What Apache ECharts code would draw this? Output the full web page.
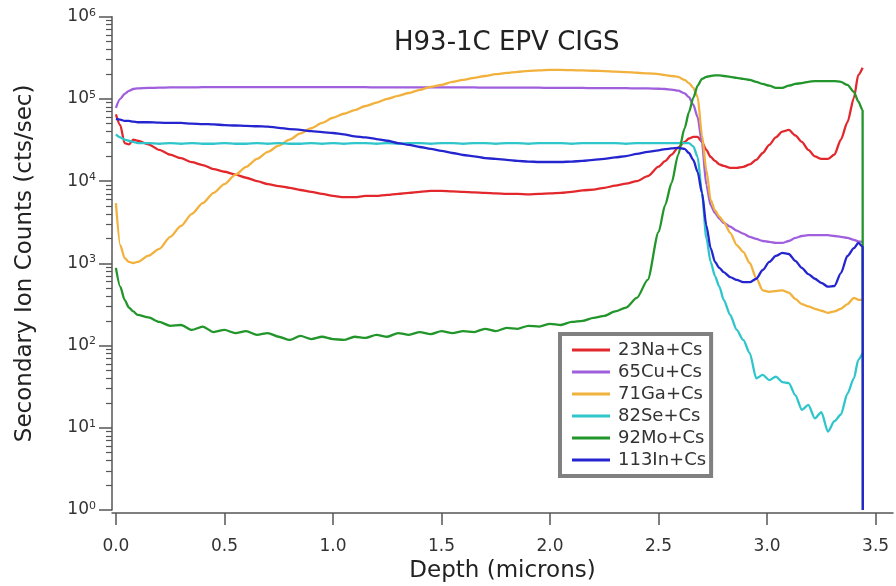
<!DOCTYPE html>
<html><head><meta charset="utf-8">
<script src="https://cdn.jsdelivr.net/npm/echarts@6/dist/echarts.min.js"></script>
<style>html,body{margin:0;padding:0;background:#fff}#c{width:896px;height:586px}</style>
</head><body><div id="c"></div>
<script>
const depth = [0,0.02,0.04,0.06,0.08,
0.10,0.15,0.20,0.25,0.30,0.35,0.40,0.45,0.50,0.55,0.60,0.65,0.70,0.75,0.80,0.85,0.90,0.95,1.00,1.05,1.10,1.15,1.20,1.25,1.30,1.35,1.40,1.45,1.50,1.55,1.60,1.65,1.70,1.75,1.80,1.85,1.90,1.95,2.00,2.05,2.10,2.15,2.20,2.25,2.30,2.35,2.40,2.45,2.50,
2.53,2.56,2.59,2.62,
2.64,2.66,2.68,2.70,2.72,2.74,2.76,2.78,2.80,
2.83,2.86,2.89,2.92,2.95,2.98,3.01,3.04,3.07,3.10,3.13,3.16,3.19,3.22,3.25,3.28,3.31,3.34,3.37,3.40,
3.42,3.44,3.441];

const na23 = [65000,48000,29000,28000,32000,
31000,28000,24000,21000,19000,17000,15700,14000,13000,12000,11000,10000,9200,8700,8300,7800,7400,7000,6600,6400,6400,6600,6600,6800,7000,7200,7400,7600,7600,7500,7400,7300,7200,7100,7000,7000,6900,7000,7100,7200,7400,7700,7900,8300,8800,9300,10000,11500,15000,
17500,21000,25500,30000,
33000,34500,34500,30000,24000,19700,17600,16000,15300,
14500,14500,14900,16000,18100,22000,27600,34000,40000,42000,36000,30000,24000,20000,18600,18600,21000,32000,52000,103000,
196000,240000,null];

const cu65 = [78000,100000,115000,125000,132000,
134000,136000,137000,138000,138000,138000,139000,139000,139000,139000,139000,139000,139000,139000,139000,139000,139000,139000,139000,139000,139000,139000,138000,138000,138000,138000,138000,138000,138000,138000,138000,138000,137000,137000,137000,137000,137000,137000,136000,136000,136000,136000,135000,135000,135000,135000,134000,134000,133000,
132000,130000,126000,117000,
105000,85000,60000,29000,9000,5100,4100,3500,3100,
2800,2500,2300,2100,1980,1870,1820,1770,1770,1870,2040,2150,2200,2200,2200,2200,2150,2100,2040,1930,
1850,1820,null];

const ga71 = [5400,1670,1160,1040,1010,
1040,1240,1500,2100,2850,4000,5400,7200,9200,11900,14900,18600,22700,27000,32000,38000,44000,51000,59000,66000,73000,82000,90000,100000,109000,118000,129000,140000,148000,161000,170000,180000,190000,200000,207000,213000,219000,222000,225000,225000,224000,222000,220000,218000,215000,212000,208000,205000,200000,
195000,190000,185000,170000,
156000,136000,106000,36000,13700,5900,4400,3700,3200,
2350,1670,1380,1010,660,470,450,460,470,440,370,320,300,280,265,250,260,280,320,380,
360,360,null];

const se82 = [37000,34000,32000,31000,30000,
29000,29000,28500,29000,28500,29000,28500,28500,29000,28500,28500,29000,28500,29000,28500,28500,29000,28500,29000,28500,29000,29000,28500,29000,28500,29000,29000,28500,29000,29000,28500,29000,29000,28500,29000,29000,28500,29000,29000,29000,28500,29000,29000,29000,29000,28500,29000,29000,29000,
29000,29000,29000,29000,
29000,26500,19700,7200,2040,1040,700,520,360,
236,155,117,81,40,44,38,42,36,35,25,16.5,19,13,15.5,9,12,14.5,26,40,
67,81,null];

const mo92 = [880,520,360,290,260,
236,220,194,174,178,155,170,146,155,142,150,135,142,128,117,131,120,128,120,117,128,124,135,128,142,135,146,138,150,142,150,146,160,150,164,160,174,170,184,178,194,200,217,230,260,290,380,630,2400,
5100,9500,20800,44000,
69000,103000,145000,175000,185000,190000,193000,193000,190000,
185000,180000,175000,170000,161000,152000,145000,136000,136000,145000,152000,156000,161000,165000,165000,165000,165000,161000,148000,122000,
93000,73000,1];

const in113 = [57000,56000,54000,54000,53000,
52000,52000,51500,51000,51000,50000,49500,49000,48000,47500,47000,46500,46000,44500,43000,42000,40500,39500,38500,37000,35000,34000,32500,31000,29000,27600,26000,24700,23300,22000,20800,20000,19100,18600,18100,17600,17300,17100,17100,17100,17300,17600,18100,18600,19400,20200,21400,22700,23700,
24500,25000,25400,24700,
22000,18100,12900,7200,2900,1530,1040,880,780,
680,630,590,590,650,830,1040,1230,1340,1300,1070,880,740,650,580,520,530,760,1230,1530,
1770,1600,1];

const seriesNames = ['23Na+Cs','65Cu+Cs','71Ga+Cs','82Se+Cs','92Mo+Cs','113In+Cs'];
const seriesValues = [na23, cu65, ga71, se82, mo92, in113];
const seriesColors = ['#e2282c','#a05fdc','#f2b13c','#2ec5cb','#22952b','#2525cf'];
const xTicks = [0,0.5,1.0,1.5,2.0,2.5,3.0,3.5];
const chartTitle = 'H93-1C EPV CIGS';
const xName = 'Depth (microns)';
const yName = 'Secondary Ion Counts (cts/sec)';

const FONT = 'DejaVu Sans';
const minorTicks = [];
for (let n = 0; n < 6; n++) for (let k = 2; k <= 9; k++) minorTicks.push(n + Math.log10(k));

const chart = echarts.init(document.getElementById('c'), null, {renderer:'canvas'});
const option = {
  animation:false,
  backgroundColor:'#ffffff',
  title:{text:chartTitle, left:394, top:30, padding:0,
    textStyle:{fontFamily:FONT, fontSize:26, fontWeight:'normal', color:'#222'}},
  grid:{left:112, right:3, top:16.7, bottom:76, containLabel:false, outerBoundsMode:'none'},
  legend:{orient:'vertical', left:560, top:334, padding:[7,5,7,12],
    itemWidth:38, itemHeight:3, itemGap:4, icon:'rect',
    backgroundColor:'#ffffff', borderColor:'#808080', borderWidth:4,
    textStyle:{fontFamily:FONT, fontSize:18, color:'#333', lineHeight:18, padding:[0,0,0,3]},
    data:seriesNames},
  xAxis:{type:'value', min:-0.018, max:3.58, offset:3,
    axisLine:{onZero:false, lineStyle:{color:'#555', width:1.5}},
    axisTick:{customValues:xTicks, length:12, lineStyle:{color:'#555', width:1.5}},
    axisLabel:{customValues:xTicks, formatter:v=>v.toFixed(1), margin:25,
      fontFamily:FONT, fontSize:17, color:'#333'},
    splitLine:{show:false},
    name:xName, nameLocation:'middle', nameGap:40,
    nameTextStyle:{fontFamily:FONT, fontSize:23, color:'#222'}},
  yAxis:[{type:'log', logBase:10, min:1, max:1e6,
    axisLine:{show:true, onZero:false, lineStyle:{color:'#555', width:1.5}},
    axisTick:{show:true, length:13, lineStyle:{color:'#555', width:1.5}},
    axisLabel:{margin:16, color:'#333',
      formatter:v=>'{b|10}{s|' + Math.round(Math.log10(v)) + '}',
      rich:{b:{fontFamily:FONT, fontSize:17, color:'#333', lineHeight:19},
            s:{fontFamily:FONT, fontSize:11, color:'#333', verticalAlign:'top', lineHeight:19}}},
    splitLine:{show:false}, minorTick:{show:false},
    name:yName, nameLocation:'middle', nameGap:75,
    nameTextStyle:{fontFamily:FONT, fontSize:23, color:'#222'}},
   {type:'value', min:0, max:6, position:'left',
    axisLine:{show:false, onZero:false}, axisLabel:{show:false}, splitLine:{show:false},
    axisTick:{show:true, customValues:minorTicks, length:6, lineStyle:{color:'#555', width:1.2}}}],
  series: seriesNames.map((name, i) => ({
    name, type:'line', xAxisIndex:0, yAxisIndex:0,
    color:seriesColors[i],
    showSymbol:false, symbol:'none',
    lineStyle:{width:2.3, color:seriesColors[i]},
    smooth:0.25, smoothMonotone:'x',
    data: depth.map((d, j) => [d, seriesValues[i][j]])
  }))
};
chart.setOption(option);
</script></body></html>
